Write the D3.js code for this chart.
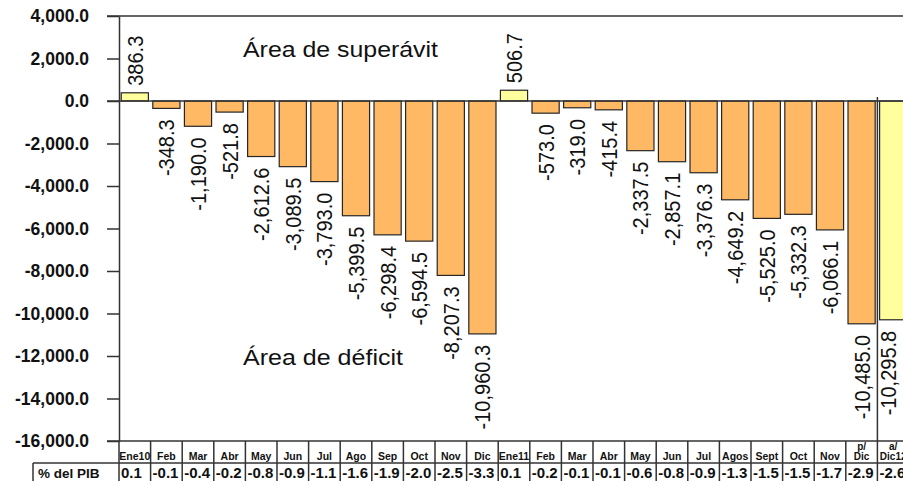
<!DOCTYPE html>
<html>
<head>
<meta charset="utf-8">
<script src="https://cdn.jsdelivr.net/npm/d3@7"></script>
<style>
  body { margin: 0; background: #fff; }
  svg { display: block; font-family: "Liberation Sans", Arial, sans-serif; }
</style>
</head>
<body>
<div id="chart"></div>
<script>
// Data
var months = ["Ene10", "Feb", "Mar", "Abr", "May", "Jun", "Jul", "Ago", "Sep", "Oct", "Nov", "Dic",
              "Ene11", "Feb", "Mar", "Abr", "May", "Jun", "Jul", "Agos", "Sept", "Oct", "Nov", "p/\nDic", "a/\nDic12"];
var balance = [386.3, -348.3, -1190.0, -521.8, -2612.6, -3089.5, -3793.0, -5399.5, -6298.4, -6594.5, -8207.3, -10960.3,
               506.7, -573.0, -319.0, -415.4, -2337.5, -2857.1, -3376.3, -4649.2, -5525.0, -5332.3, -6066.1, -10485.0,
               -10295.8];
var pctPIB = ["0.1", "-0.1", "-0.4", "-0.2", "-0.8", "-0.9", "-1.1", "-1.6", "-1.9", "-2.0", "-2.5", "-3.3",
              "0.1", "-0.2", "-0.1", "-0.1", "-0.6", "-0.8", "-0.9", "-1.3", "-1.5", "-1.5", "-1.7", "-2.9", "-2.6"];
var yTicks = [4000, 2000, 0, -2000, -4000, -6000, -8000, -10000, -12000, -14000, -16000];

// Set up chart
var svgWidth = 903;
var svgHeight = 481;
var plotLeft = 119, plotTop = 16, plotBottom = 441, plotRight = 909;

var svg = d3.select("#chart")
  .append("svg")
  .attr("width", svgWidth)
  .attr("height", svgHeight);

var locale = d3.formatLocale({decimal: ".", thousands: ",", grouping: [3], currency: ["", ""], minus: "-"});
var fmt = locale.format(",.1f");

var idx = d3.range(months.length);

var xScale = d3.scaleBand()
  .domain(idx)
  .range([plotLeft, plotRight])
  .paddingInner(0.14)
  .paddingOuter(0.07);

// table cells share the same slots, without padding
var cellScale = d3.scaleBand()
  .domain(idx)
  .range([plotLeft, plotRight]);

var yScale = d3.scaleLinear()
  .domain([-16000, 4000])
  .range([plotBottom, plotTop]);

var lineColor = "#333";

// Left axis
var leftAxis = d3.axisLeft(yScale)
  .tickValues(yTicks)
  .tickSize(12)
  .tickSizeOuter(0)
  .tickPadding(18)
  .tickFormat(fmt);

var axisG = svg.append("g")
  .attr("transform", `translate(${plotLeft}, 0)`)
  .call(leftAxis);

axisG.select(".domain").attr("stroke", lineColor).attr("stroke-width", 1.5);
axisG.selectAll(".tick line").attr("stroke", lineColor).attr("stroke-width", 1.5);
axisG.selectAll(".tick text")
  .attr("fill", "#111")
  .attr("font-size", "17.5px")
  .attr("font-weight", "bold")
  .attr("font-family", "'Liberation Sans', Arial, sans-serif");

// Bars
svg.selectAll(".bar")
  .data(idx)
  .enter()
  .append("rect")
  .attr("class", "bar")
  .attr("x", i => xScale(i))
  .attr("width", xScale.bandwidth())
  .attr("y", i => yScale(Math.max(0, balance[i])))
  .attr("height", i => Math.abs(yScale(balance[i]) - yScale(0)))
  .attr("fill", i => (balance[i] >= 0 || i === months.length - 1) ? "#FFFF9E" : "#FFB964")
  .attr("stroke", "#262626")
  .attr("stroke-width", 1.2);

// Full-width lines at top, zero and bottom
[4000, 0, -16000].forEach(function(v) {
  svg.append("line")
    .attr("x1", plotLeft - 12).attr("x2", svgWidth)
    .attr("y1", yScale(v)).attr("y2", yScale(v))
    .attr("stroke", lineColor)
    .attr("stroke-width", 1.5);
});

// Divider before the last bar
svg.append("line")
  .attr("x1", cellScale(months.length - 1)).attr("x2", cellScale(months.length - 1))
  .attr("y1", yScale(0) - 4).attr("y2", plotBottom)
  .attr("stroke", lineColor)
  .attr("stroke-width", 1.5);

// Value labels (glyphs a bit taller than their run length, like the source)
var valLabels = svg.selectAll(".valLabel")
  .data(idx)
  .enter()
  .append("text")
  .attr("class", "valLabel")
  .attr("transform", function(i) {
    // keep the label inside the visible area
    var cx = Math.min(xScale(i) + xScale.bandwidth() / 2, svgWidth - 15);
    var ty = balance[i] >= 0 ? yScale(balance[i]) - 7 : yScale(balance[i]) + 11;
    return `translate(${cx}, ${ty}) rotate(-90)`;
  })
  .attr("dy", "0.36em")
  .attr("text-anchor", i => balance[i] >= 0 ? "start" : "end")
  .attr("font-size", "22px")
  .attr("fill", "#111")
  .text(i => fmt(balance[i]));

valLabels.each(function() {
  var len = this.getComputedTextLength();
  d3.select(this)
    .attr("textLength", len * 20 / 22)
    .attr("lengthAdjust", "spacingAndGlyphs");
});

// Area annotations
svg.append("text")
  .attr("x", 243).attr("y", 57)
  .attr("font-size", "22px")
  .attr("textLength", 195)
  .attr("lengthAdjust", "spacingAndGlyphs")
  .attr("fill", "#111")
  .text("Área de superávit");

svg.append("text")
  .attr("x", 243).attr("y", 365)
  .attr("font-size", "22px")
  .attr("textLength", 160)
  .attr("lengthAdjust", "spacingAndGlyphs")
  .attr("fill", "#111")
  .text("Área de déficit");

// Table under the chart
var rowSplit = 463;
var table = svg.append("g");

table.selectAll(".cellLine")
  .data(d3.range(months.length + 1))
  .enter()
  .append("line")
  .attr("x1", i => plotLeft + i * cellScale.step())
  .attr("x2", i => plotLeft + i * cellScale.step())
  .attr("y1", plotBottom).attr("y2", svgHeight)
  .attr("stroke", lineColor)
  .attr("stroke-width", 1.5);

table.append("line")
  .attr("x1", 33).attr("x2", svgWidth)
  .attr("y1", rowSplit).attr("y2", rowSplit)
  .attr("stroke", lineColor)
  .attr("stroke-width", 1.5);

table.append("line")
  .attr("x1", 33).attr("x2", 33)
  .attr("y1", rowSplit).attr("y2", svgHeight)
  .attr("stroke", lineColor)
  .attr("stroke-width", 1.5);

table.append("text")
  .attr("x", 38).attr("y", 478)
  .attr("font-size", "13.5px")
  .attr("font-weight", "bold")
  .attr("fill", "#111")
  .text("% del PIB");

var catText = table.selectAll(".cat")
  .data(idx)
  .enter()
  .append("text")
  .attr("class", "cat")
  .attr("text-anchor", "middle")
  .attr("font-size", "10.5px")
  .attr("font-weight", "bold")
  .attr("fill", "#111");

catText.each(function(i) {
  var parts = months[i].split("\n");
  var cx = cellScale(i) + cellScale.bandwidth() / 2;
  var t = d3.select(this);
  parts.forEach(function(p, k) {
    t.append("tspan")
      .attr("x", cx)
      .attr("y", 460 - (parts.length - 1 - k) * 10)
      .attr("font-size", parts.length > 1 ? "10px" : null)
      .text(p);
  });
});

table.selectAll(".pct")
  .data(idx)
  .enter()
  .append("text")
  .attr("class", "pct")
  .attr("x", i => cellScale(i) + 2)
  .attr("y", 478)
  .attr("font-size", "15px")
  .attr("font-weight", "bold")
  .attr("fill", "#111")
  .text(i => pctPIB[i]);
</script>
</body>
</html>
